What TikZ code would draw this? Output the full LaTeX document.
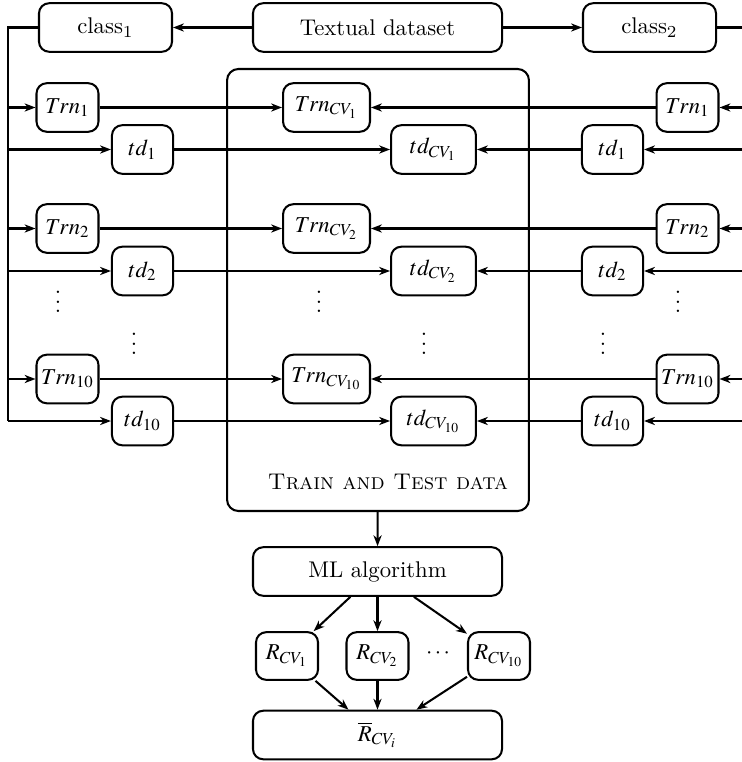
\documentclass[tikz,border=0pt]{standalone}
\usepackage{mathptmx}
\renewcommand{\rmdefault}{lmr}
\usetikzlibrary{arrows.meta}
\begin{document}
\begin{tikzpicture}[x=0.4405pt,y=-0.4405pt,
  line width=0.9pt,
  >={Stealth[length=4.8pt,width=3.6pt,inset=1.5pt]},
  arr/.style={->},
  trunk/.style={line width=1.05pt},
  box/.style={draw,rounded corners=4.5pt,inner sep=0pt,minimum height=21.4pt},
  widebox/.style={box,minimum width=109.7pt},
  classbox/.style={box,minimum width=58.6pt},
  trnbox/.style={box,minimum width=27.3pt},
  tdbox/.style={box,minimum width=26.9pt},
  trncvbox/.style={box,minimum width=38.3pt},
  tdcvbox/.style={box,minimum width=37.4pt},
  rbox/.style={box,minimum width=27.3pt,minimum height=21pt}]
\useasboundingbox (0,0) rectangle (741,762);

% outer frame holding the cross-validation folds
\node[draw,rounded corners=5pt,minimum width=133pt,minimum height=194.7pt,inner sep=0pt] (tt) at (378,290) {};
\node (ttlabel) at (388,482) {\textsc{Train and Test data}};

% top row
\node[classbox] (c1) at (105.5,27.5) {class\textsubscript{1}};
\node[widebox] (ds) at (377.5,27.5) {Textual dataset};
\node[classbox] (c2) at (649.5,27.5) {class\textsubscript{2}};

% trunk lines
\coordinate (lt) at (8,27.5);
\coordinate (lb) at (8,421);
\coordinate (rt) at (747,27.5);
\coordinate (rb) at (747,421);

% fold rows
\node[trnbox] (trnL1) at (67.5,107.5) {$Trn_1$};
\node[tdbox] (tdL1) at (142.5,149.5) {$td_1$};
\node[trncvbox] (trnC1) at (326.5,107.5) {$Trn_{CV_1}$};
\node[tdcvbox] (tdC1) at (433.5,149.5) {$td_{CV_1}$};
\node[tdbox] (tdR1) at (612.5,149.5) {$td_1$};
\node[trnbox] (trnR1) at (687.5,107.5) {$Trn_1$};

\node[trnbox] (trnL2) at (67.5,228.5) {$Trn_2$};
\node[tdbox] (tdL2) at (142.5,271) {$td_2$};
\node[trncvbox] (trnC2) at (326.5,228.5) {$Trn_{CV_2}$};
\node[tdcvbox] (tdC2) at (433.5,271) {$td_{CV_2}$};
\node[tdbox] (tdR2) at (612.5,271) {$td_2$};
\node[trnbox] (trnR2) at (687.5,228.5) {$Trn_2$};

\node[trnbox] (trnL10) at (67.5,379) {$Trn_{10}$};
\node[tdbox] (tdL10) at (142.5,421) {$td_{10}$};
\node[trncvbox] (trnC10) at (326.5,379) {$Trn_{CV_{10}}$};
\node[tdcvbox] (tdC10) at (433.5,421) {$td_{CV_{10}}$};
\node[tdbox] (tdR10) at (612.5,421) {$td_{10}$};
\node[trnbox] (trnR10) at (687.5,379) {$Trn_{10}$};

% ellipses between folds
\node (v1) at (58,295) {$\vdots$};
\node (v2) at (134,337) {$\vdots$};
\node (v3) at (319,295) {$\vdots$};
\node (v4) at (424,337) {$\vdots$};
\node (v5) at (603,337) {$\vdots$};
\node (v6) at (678,295) {$\vdots$};

% bottom part
\node[widebox] (ml) at (377.5,571.5) {ML algorithm};
\node[rbox] (r1) at (287,656) {$R_{CV_1}$};
\node[rbox] (r2) at (377.5,656) {$R_{CV_2}$};
\node (rd) at (438,654) {$\cdots$};
\node[rbox] (r10) at (499,656) {$R_{CV_{10}}$};
\node[widebox] (rbar) at (377.5,735) {$\overline{R}_{CV_i}$};

% connectors
\draw[arr] (ds) -- (c1);
\draw[arr] (ds) -- (c2);
\draw[trunk] (c1.west) -- (lt) -- (lb);
\draw[trunk] (c2.east) -- (rt) -- (rb);

\foreach \k in {1,2,10}{
  \draw[arr] (trnL\k.west -| lt) -- (trnL\k);
  \draw[arr] (tdL\k.west -| lt) -- (tdL\k);
  \draw[arr] (trnL\k) -- (trnC\k);
  \draw[arr] (tdL\k) -- (tdC\k);
  \draw[arr] (trnR\k.east -| rt) -- (trnR\k);
  \draw[arr] (tdR\k.east -| rt) -- (tdR\k);
  \draw[arr] (trnR\k) -- (trnC\k);
  \draw[arr] (tdR\k) -- (tdC\k);
}

\draw[arr] (tt) -- (ml);
\draw[arr] (ml) -- (r1);
\draw[arr] (ml) -- (r2);
\draw[arr] (ml) -- (r10);
\draw[arr] (r1) -- (rbar);
\draw[arr] (r2) -- (rbar);
\draw[arr] (r10) -- (rbar);
\end{tikzpicture}
\end{document}
